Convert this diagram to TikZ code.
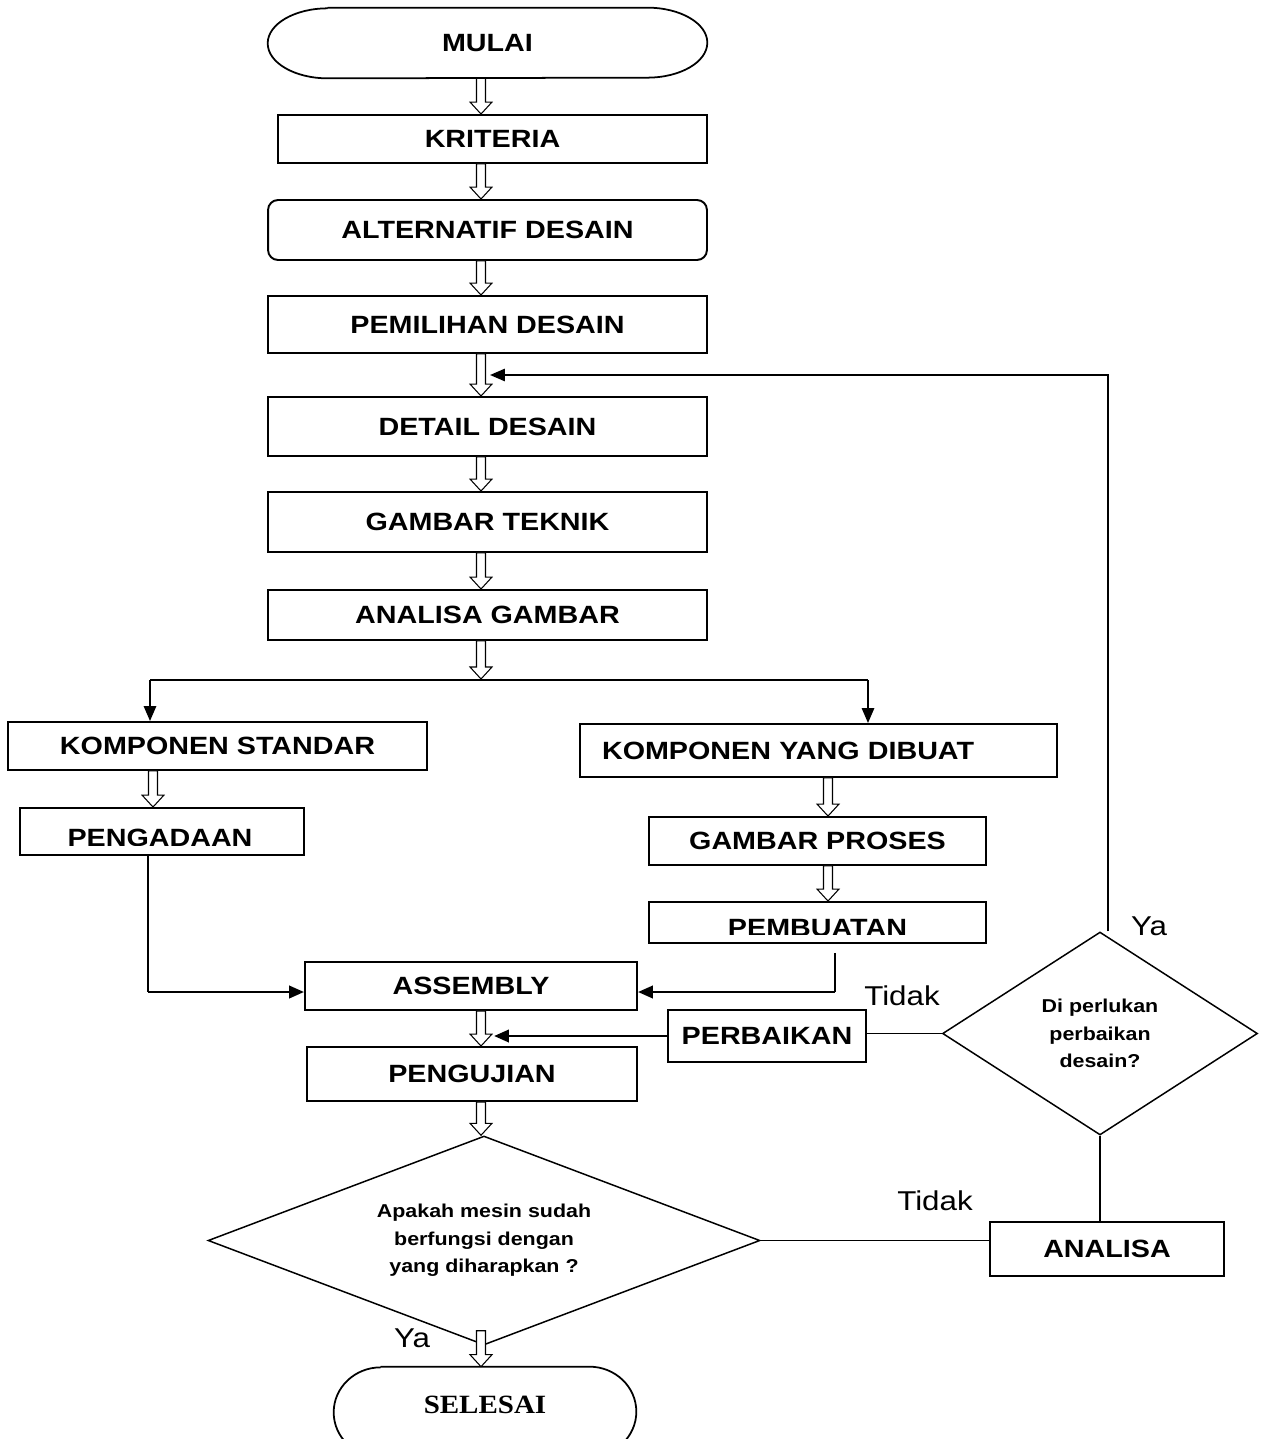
\documentclass[tikz,border=0pt]{standalone}
\usepackage{fontspec}
\setmainfont{Liberation Sans}[FakeStretch=1.15]
\newfontfamily\selesaifont{Liberation Serif}[FakeStretch=1.1]
\usetikzlibrary{shapes.geometric,calc,arrows.meta}

\newcommand{\boxfont}{\fontsize{14.2}{17}\selectfont\bfseries}
\newcommand{\smallfont}{\fontsize{10.6}{15.6}\selectfont\bfseries}
\newcommand{\answerfont}{\fontsize{15.5}{18}\selectfont}

\tikzset{
  box/.style={draw, line width=1.1pt, font=\boxfont, inner sep=2pt},
  decision/.style={draw, diamond, line width=0.85pt, font=\smallfont, align=center, inner sep=0pt},
  term/.style={inner sep=0pt, font=\boxfont},
  termline/.style={line width=1pt},
  conn/.style={line width=1.1pt, -{Triangle[length=8.5pt,width=7pt]}},
  plain/.style={line width=0.85pt},
  hollowarr/.style={line width=0.6pt, fill=white},
  answer/.style={font=\answerfont}
}

\newcommand{\termshape}[3]{%
  \draw[termline] ($(#1.north west)+(#2,0)$) -- ($(#1.north east)+(-#2,0)$)
    arc[start angle=90, end angle=-90, x radius=#2*0.02cm, y radius=#3*0.02cm]
    -- ($(#1.south west)+(#2,0)$)
    arc[start angle=270, end angle=90, x radius=#2*0.02cm, y radius=#3*0.02cm];}

\newcommand{\hollow}[2]{%
  \draw[hollowarr] ($#1+(-4.5,0)$) -- ($#2+(-4.5,-12)$) -- ($#2+(-11,-12)$) -- #2
    -- ($#2+(11,-12)$) -- ($#2+(4.5,-12)$) -- ($#1+(4.5,0)$) -- cycle;}

\begin{document}
\begin{tikzpicture}[x=0.02cm, y=-0.02cm]
\useasboundingbox (0,0) rectangle (1262,1439);
\clip (0,0) rectangle (1262,1439);

\node[term, minimum width=8.78cm, minimum height=1.4cm] (mulai) at (487.5,43) {MULAI};
\termshape{mulai}{60}{35}
\node[box, minimum width=8.58cm, minimum height=0.96cm] (kriteria) at (492.5,139) {KRITERIA};
\node[box, rounded corners=0.2cm, minimum width=8.78cm, minimum height=1.2cm] (alternatif) at (487.5,230) {ALTERNATIF DESAIN};
\node[box, minimum width=8.78cm, minimum height=1.14cm] (pemilihan) at (487.5,324.5) {PEMILIHAN DESAIN};
\node[box, minimum width=8.78cm, minimum height=1.18cm] (detail) at (487.5,426.5) {DETAIL DESAIN};
\node[box, minimum width=8.78cm, minimum height=1.2cm] (gteknik) at (487.5,522) {GAMBAR TEKNIK};
\node[box, minimum width=8.78cm, minimum height=1.0cm] (agambar) at (487.5,615) {ANALISA GAMBAR};

\node[box, minimum width=8.38cm, minimum height=0.96cm] (kstd) at (217.5,746) {KOMPONEN STANDAR};
\node[box, minimum width=9.54cm, minimum height=1.06cm, text width=8.66cm, inner xsep=0pt, align=left] (kdibuat) at (818.5,750.5) {KOMPONEN YANG DIBUAT};

\node[box, minimum width=5.68cm, minimum height=0.94cm] (pengadaan) at (162,831.5) {};
\begin{scope}
  \clip (pengadaan.north west) rectangle ($(pengadaan.south east)+(0,-10)$);
  \node[font=\boxfont] (pengadaantxt) at (160,837.5) {PENGADAAN};
\end{scope}
\node[box, minimum width=6.74cm, minimum height=0.96cm] (gproses) at (817.5,841) {GAMBAR PROSES};
\node[box, minimum width=6.74cm, minimum height=0.82cm] (pembuatan) at (817.5,922.5) {};
\begin{scope}
  \clip (pembuatan.north west) rectangle ($(pembuatan.south east)+(0,-9)$);
  \node[font=\boxfont] (pembuatantxt) at (817.5,928) {PEMBUATAN};
\end{scope}

\node[box, minimum width=6.64cm, minimum height=0.96cm] (assembly) at (471,986) {ASSEMBLY};
\node[box, minimum width=3.96cm, minimum height=1.04cm] (perbaikan) at (767,1036) {PERBAIKAN};
\node[box, minimum width=6.6cm, minimum height=1.08cm] (pengujian) at (472,1074) {PENGUJIAN};
\node[decision, aspect=1.55, minimum width=6.3cm, minimum height=4.06cm] (dia1) at (1100,1033.5) {Di perlukan\\perbaikan\\desain?};
\node[box, minimum width=4.68cm, minimum height=1.08cm] (analisa) at (1107,1249) {ANALISA};
\node[decision, aspect=2.64, minimum width=11.04cm, minimum height=4.18cm] (dia2) at (484,1240.5) {Apakah mesin sudah\\berfungsi dengan\\yang diharapkan ?};
\node[term, font=\selesaifont\bfseries\fontsize{15}{18}\selectfont, minimum width=6.04cm, minimum height=1.8cm] (selesai) at (485,1412) {};
\termshape{selesai}{47}{45}
\node[font=\selesaifont\bfseries\fontsize{15}{18}\selectfont] (selesaitxt) at (485,1405) {SELESAI};

\coordinate (col) at (481,0);
\coordinate (colstd) at (153,0);
\coordinate (colbuat) at (828,0);
\hollow{(col |- mulai.south)}{(col |- kriteria.north)}
\hollow{(col |- kriteria.south)}{(col |- alternatif.north)}
\hollow{(col |- alternatif.south)}{(col |- pemilihan.north)}
\hollow{(col |- pemilihan.south)}{(col |- detail.north)}
\hollow{(col |- detail.south)}{(col |- gteknik.north)}
\hollow{(col |- gteknik.south)}{(col |- agambar.north)}

\coordinate (split) at (481,680);
\coordinate (splitl) at (150,680);
\coordinate (splitr) at (868,680);
\hollow{(col |- agambar.south)}{($(split)+(0,-1)$)}
\draw[line width=1.1pt] (splitl) -- (splitr);
\draw[conn] (splitl) -- (splitl |- kstd.north);
\draw[conn] (splitr) -- (splitr |- kdibuat.north);

\hollow{(colstd |- kstd.south)}{(colstd |- pengadaan.north)}
\hollow{(colbuat |- kdibuat.south)}{(colbuat |- gproses.north)}
\hollow{(colbuat |- gproses.south)}{(colbuat |- pembuatan.north)}

\coordinate (leftin) at ($(assembly.west)+(0,6)$);
\coordinate (downl) at ($(pengadaan.south)+(-14,0)$);
\coordinate (cornerl) at (downl |- leftin);
\draw[line width=0.6pt] (downl) -- (cornerl);
\draw[conn, line width=1.6pt] (cornerl) -- (leftin);

\coordinate (rightin) at ($(assembly.east)+(0,6)$);
\coordinate (downr) at ($(pembuatan.south)+(17.5,9)$);
\coordinate (cornerr) at (downr |- rightin);
\draw[line width=0.9pt] (downr) -- (cornerr);
\draw[conn, line width=1.6pt] (cornerr) -- (rightin);

\hollow{(col |- assembly.south)}{(col |- pengujian.north)}
\coordinate (fix) at ($(col |- perbaikan.west)+(13,0)$);
\draw[conn, line width=1.6pt] (perbaikan.west) -- (fix);
\hollow{(col |- pengujian.south)}{(col |- dia2.north)}

\coordinate (back) at ($(pemilihan.south)!0.5!(detail.north)+(2.5,0)$);
\coordinate (yatop) at ($(dia1.north)+(8,0)$);
\draw[conn] (yatop) |- (back);
\node[answer] (ya1) at (1149,926) {Ya};

\draw[plain] (dia1.west) -- (dia1.west -| perbaikan.east);
\node[answer] (tidak1) at (902,996) {Tidak};
\draw[plain] (dia1.south) -- (dia1.south |- analisa.north);
\draw[plain] (dia2.east) -- (dia2.east -| analisa.west);
\node[answer] (tidak2) at (935,1201) {Tidak};

\coordinate (endtop) at ($(col |- dia2.south)+(0,-15)$);
\hollow{(endtop)}{(col |- selesai.north)}
\node[answer] (ya2) at (412,1338) {Ya};
\end{tikzpicture}
\end{document}
